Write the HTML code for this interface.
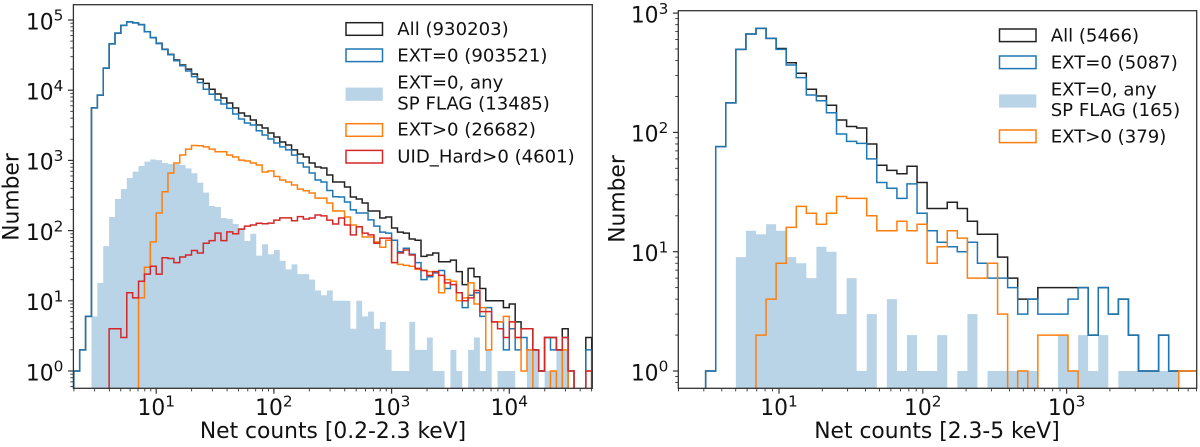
<!DOCTYPE html>
<html>
<head>
<meta charset="utf-8">
<title>Net counts histograms</title>
<style>
html,body{margin:0;padding:0;background:#fff;}
svg{display:block;font-family:"DejaVu Sans","Liberation Sans",sans-serif;fill:#111;}
</style>
</head>
<body>
<svg id="figure" width="1200" height="447" viewBox="0 0 1200 447" xmlns="http://www.w3.org/2000/svg">
  <defs>
    <clipPath id="clip-left"><rect x="73.4" y="4.7" width="518.9" height="383.6"/></clipPath>
    <clipPath id="clip-right"><rect x="678.3" y="10.7" width="518.4" height="377.6"/></clipPath>
  </defs>
  <rect x="0" y="0" width="1200" height="447" fill="#fff"/>
  <g id="panel-left">
    <g id="left-marks" clip-path="url(#clip-left)"></g>
    <g id="left-axes"></g>
    <text x="333" y="438" font-size="21.8" text-anchor="middle">Net counts [0.2-2.3 keV]</text>
    <text transform="translate(18.5,197) rotate(-90)" font-size="21.8" text-anchor="middle">Number</text>
    <g font-size="18.1">
      <rect x="346" y="22.7" width="36.5" height="12.6" fill="none" stroke="#222" stroke-width="1.5"/>
      <text x="397.3" y="35">All (930203)</text>
      <rect x="346" y="49" width="36.5" height="12.6" fill="none" stroke="#1f77b4" stroke-width="1.5"/>
      <text x="397.3" y="61.7">EXT=0 (903521)</text>
      <rect x="345.6" y="87.6" width="37.2" height="13.2" fill="#b9d3e7"/>
      <text x="397.3" y="88.3">EXT=0, any</text>
      <text x="397.3" y="109.3">SP FLAG (13485)</text>
      <rect x="346" y="123.7" width="36.5" height="12.6" fill="none" stroke="#ff7f0e" stroke-width="1.5"/>
      <text x="397.3" y="135.7">EXT&gt;0 (26682)</text>
      <rect x="346" y="150.4" width="36.5" height="12.6" fill="none" stroke="#d62728" stroke-width="1.5"/>
      <text x="397.3" y="162.7">UID_Hard&gt;0 (4601)</text>
    </g>
  </g>
  <g id="panel-right">
    <g id="right-marks" clip-path="url(#clip-right)"></g>
    <g id="right-axes"></g>
    <text x="937" y="438" font-size="21.8" text-anchor="middle">Net counts [2.3-5 keV]</text>
    <text transform="translate(624.5,199) rotate(-90)" font-size="21.8" text-anchor="middle">Number</text>
    <g font-size="18.1">
      <rect x="999.5" y="29" width="36.5" height="12.6" fill="none" stroke="#222" stroke-width="1.5"/>
      <text x="1050.7" y="41.7">All (5466)</text>
      <rect x="999.5" y="56" width="36.5" height="12.6" fill="none" stroke="#1f77b4" stroke-width="1.5"/>
      <text x="1050.7" y="68.3">EXT=0 (5087)</text>
      <rect x="999.1" y="94.4" width="37.2" height="13.2" fill="#b9d3e7"/>
      <text x="1050.7" y="95.7">EXT=0, any</text>
      <text x="1050.7" y="116">SP FLAG (165)</text>
      <rect x="999.5" y="130" width="36.5" height="12.6" fill="none" stroke="#ff7f0e" stroke-width="1.5"/>
      <text x="1050.7" y="142.7">EXT&gt;0 (379)</text>
    </g>
  </g>
</svg>
<script>
// ---- Data: counts per logarithmic bin ----
const leftAll = [1,2,6,5600,8500,20600,45700,65000,84000,94000,91000,86000,68000,56000,46600,38300,32400,26900,22900,20000,17000,14400,12500,10300,8830,7740,6570,5580,4730,4290,3770,3190,2900,2460,2150,1830,1660,1410,1230,1120,918,805,780,620,492,492,418,301,282,247,190,190,151,156,109,95,92,76,73,43,45,48,36,36,38,26,17,29,22,15,10,10,10,8,9,5,4,4,2,1,3,3,2,4,1,0,0,3];
const leftExt0 = [1,2,6,5600,8500,20600,45700,65000,84000,94000,91000,86000,68000,56000,46000,38000,32000,26300,22300,18800,15600,12800,10300,8740,7250,6360,5520,4580,3890,3410,3190,2650,2300,2020,1770,1560,1410,1190,918,805,662,526,492,373,304,301,255,197,178,178,142,116,95,92,73,50,56,46,35,20,22,25,27,15,19,13,8,12,13,6,8,5,5,2,4,2,3,2,2,1,3,2,2,3,0,0,0,2];
const leftSpFlag = [0,0,0,6,18,60,156,282,392,561,693,833,960,1030,1010,918,890,888,860,771,655,480,347,224,217,151,146,124,109,71,90,44,64,46,53,37,28,33,24,24,20,14,12,14,10,10,10,4,10,6,7,4,5,2,1,1,1,5,2,2,3,1,1,0,2,1,0,2,3,1,2,0,1,1,1,0,0,2,2,0,1,1,2,2,0,0,0,0];
const leftExtPositive = [0,0,0,0,0,0,0,0,0,0,0,11,30,69,178,357,661,918,1194,1450,1630,1620,1560,1450,1330,1330,1190,1120,1010,980,918,860,684,710,590,526,492,447,390,370,343,290,290,247,190,190,156,120,114,81,81,69,58,73,35,33,32,31,28,27,26,26,13,20,19,10,11,18,9,8,2,5,5,6,5,3,1,2,0,0,0,1,0,2,0,0,0,1];
const leftUidHard = [0,0,0,0,0,0,4,4,3,13,11,19,24,31,24,41,40,35,42,45,52,48,66,72,92,72,96,90,105,116,120,127,125,128,141,152,152,138,158,146,151,167,162,141,124,151,120,87,113,92,87,66,78,78,35,48,53,45,29,27,23,26,23,18,17,13,10,11,14,7,7,5,4,3,5,3,4,4,2,1,3,3,2,3,1,0,0,1];

const rightAll = [1,76,177,497,668,745,614,505,384,313,230,202,169,127,112,109,80,53,48,45,52,38,23,23,26,23,18,14,14,9,6,4,4,5,5,5,5,5,2,5,3,4,2,1,1,2,1,1,1];
const rightExt0 = [1,76,177,497,668,745,614,497,367,288,206,184,146,97,84,81,60,38,34,28,37,21,15,12,11,10,12,8,6,6,5,3,4,3,3,3,4,5,2,5,3,4,2,1,1,2,1,0,0];
const rightSpFlag = [0,0,0,9,15,14,17,15,9,8,6,11,10,3,6,1,3,0,4,1,2,1,1,2,0,1,3,0,1,1,1,1,1,0,0,2,1,2,1,2,0,1,1,1,1,1,1,0,0];
const rightExtPositive = [0,0,0,0,0,2,4,8,16,24,21,17,21,29,28,28,20,15,15,18,15,17,8,11,15,13,6,6,8,3,0,1,0,2,2,2,1,0,0,0,0,0,0,0,0,0,0,1,1];

// Tick label exponents (10^n)
const leftXTickExponents = [1,2,3,4];
const leftYTickExponents = [0,1,2,3,4,5];
const rightXTickExponents = [1,2,3];
const rightYTickExponents = [0,1,2,3];

const SVG_NS = 'http://www.w3.org/2000/svg';

function makePanel(c){
  return {
    c: c,
    x: function(logValue){ return c.x10 + (logValue - 1) * c.xDecade; },
    y: function(count){ return count > 0 ? c.y1 - Math.log10(count) * c.yDecade : c.bottom + 40; }
  };
}

const leftPanel = makePanel({left:73.4,right:592.3,top:4.7,bottom:388.3,x10:156.2,xDecade:117.7,y1:371,yDecade:70.2,binStart:0.30,binWidth:0.05});
const rightPanel = makePanel({left:678.3,right:1196.7,top:10.7,bottom:388.3,x10:779,xDecade:143.8,y1:371,yDecade:119.3,binStart:0.49,binWidth:0.07});

function stepPath(panel, counts){
  const c = panel.c;
  const base = c.bottom + 40;
  let d = '';
  counts.forEach(function(v, i){
    const x0 = panel.x(c.binStart + c.binWidth * i);
    const x1 = panel.x(c.binStart + c.binWidth * (i + 1));
    const y = panel.y(v);
    d += (i === 0 ? 'M' + x0.toFixed(2) + ' ' + base + 'L' : 'L') + x0.toFixed(2) + ' ' + y.toFixed(2) + 'L' + x1.toFixed(2) + ' ' + y.toFixed(2);
  });
  const xEnd = panel.x(c.binStart + c.binWidth * counts.length);
  return d + 'L' + xEnd.toFixed(2) + ' ' + base;
}

function drawStep(group, panel, counts, color){
  const p = document.createElementNS(SVG_NS, 'path');
  p.setAttribute('d', stepPath(panel, counts));
  p.setAttribute('fill', 'none');
  p.setAttribute('stroke', color);
  p.setAttribute('stroke-width', '1.5');
  p.setAttribute('stroke-linejoin', 'miter');
  group.appendChild(p);
  return p;
}

function drawFilled(group, panel, counts, color){
  const c = panel.c;
  const p = document.createElementNS(SVG_NS, 'path');
  let d = '';
  counts.forEach(function(v, i){
    if (v <= 0) return;
    const x0 = panel.x(c.binStart + c.binWidth * i);
    const x1 = panel.x(c.binStart + c.binWidth * (i + 1));
    const y = panel.y(v);
    d += 'M' + x0.toFixed(2) + ' ' + c.bottom + 'L' + x0.toFixed(2) + ' ' + y.toFixed(2) + 'L' + x1.toFixed(2) + ' ' + y.toFixed(2) + 'L' + x1.toFixed(2) + ' ' + c.bottom + 'Z';
  });
  p.setAttribute('d', d);
  p.setAttribute('fill', color);
  group.appendChild(p);
  return p;
}

function tickLine(group, x1, y1, x2, y2, w){
  const l = document.createElementNS(SVG_NS, 'line');
  l.setAttribute('x1', x1);
  l.setAttribute('y1', y1);
  l.setAttribute('x2', x2);
  l.setAttribute('y2', y2);
  l.setAttribute('stroke', '#333');
  l.setAttribute('stroke-width', w);
  group.appendChild(l);
  return l;
}

function powerLabel(group, exponent, x, y, anchor){
  const t = document.createElementNS(SVG_NS, 'text');
  t.setAttribute('x', x);
  t.setAttribute('y', y);
  t.setAttribute('font-size', '21.8');
  t.setAttribute('text-anchor', anchor);
  const base = document.createElementNS(SVG_NS, 'tspan');
  base.textContent = '10';
  t.appendChild(base);
  const sup = document.createElementNS(SVG_NS, 'tspan');
  sup.setAttribute('font-size', '15.3');
  sup.setAttribute('dy', '-8.6');
  sup.textContent = String(exponent);
  t.appendChild(sup);
  group.appendChild(t);
  return t;
}

function drawAxes(group, panel, xExps, yExps){
  const c = panel.c;
  const frame = document.createElementNS(SVG_NS, 'rect');
  frame.setAttribute('x', c.left);
  frame.setAttribute('y', c.top);
  frame.setAttribute('width', c.right - c.left);
  frame.setAttribute('height', c.bottom - c.top);
  frame.setAttribute('fill', 'none');
  frame.setAttribute('stroke', '#333');
  frame.setAttribute('stroke-width', '1.3');
  
  
  group.appendChild(frame);

  const xMinLog = 1 + (c.left - c.x10) / c.xDecade;
  const xMaxLog = 1 + (c.right - c.x10) / c.xDecade;
  for (let e = Math.floor(xMinLog); e <= Math.ceil(xMaxLog); e++){
    for (let m = 1; m <= 9; m++){
      const lg = e + Math.log10(m);
      if (lg < xMinLog || lg > xMaxLog) continue;
      const px = panel.x(lg);
      const t = tickLine(group, px, c.bottom, px, c.bottom + (m === 1 ? 5.4 : 3.1), m === 1 ? 1.2 : 0.9);
      
      
    }
  }
  const yMinLog = (c.y1 - c.bottom) / c.yDecade;
  const yMaxLog = (c.y1 - c.top) / c.yDecade;
  for (let e = Math.floor(yMinLog); e <= Math.ceil(yMaxLog); e++){
    for (let m = 1; m <= 9; m++){
      const lg = e + Math.log10(m);
      if (lg < yMinLog || lg > yMaxLog) continue;
      const py = c.y1 - lg * c.yDecade;
      const t = tickLine(group, c.left - (m === 1 ? 5.4 : 3.1), py, c.left, py, m === 1 ? 1.2 : 0.9);
      
      
    }
  }
  xExps.forEach(function(e){
    const lab = powerLabel(group, e, panel.x(e), 415, 'middle');
    
    
  });
  yExps.forEach(function(e){
    const lab = powerLabel(group, e, c.left - 10, c.y1 - e * c.yDecade + 9.3, 'end');
    
    
  });
}

const leftMarks = document.getElementById('left-marks');
const leftFill = drawFilled(leftMarks, leftPanel, leftSpFlag, '#b9d3e7');


const leftAllLine = drawStep(leftMarks, leftPanel, leftAll, '#222');


const leftExt0Line = drawStep(leftMarks, leftPanel, leftExt0, '#1f77b4');


const leftExtLine = drawStep(leftMarks, leftPanel, leftExtPositive, '#ff7f0e');


const leftUidLine = drawStep(leftMarks, leftPanel, leftUidHard, '#d62728');


drawAxes(document.getElementById('left-axes'), leftPanel, leftXTickExponents, leftYTickExponents);

const rightMarks = document.getElementById('right-marks');
const rightFill = drawFilled(rightMarks, rightPanel, rightSpFlag, '#b9d3e7');


const rightAllLine = drawStep(rightMarks, rightPanel, rightAll, '#222');


const rightExt0Line = drawStep(rightMarks, rightPanel, rightExt0, '#1f77b4');


const rightExtLine = drawStep(rightMarks, rightPanel, rightExtPositive, '#ff7f0e');


drawAxes(document.getElementById('right-axes'), rightPanel, rightXTickExponents, rightYTickExponents);
</script>
</body>
</html>
